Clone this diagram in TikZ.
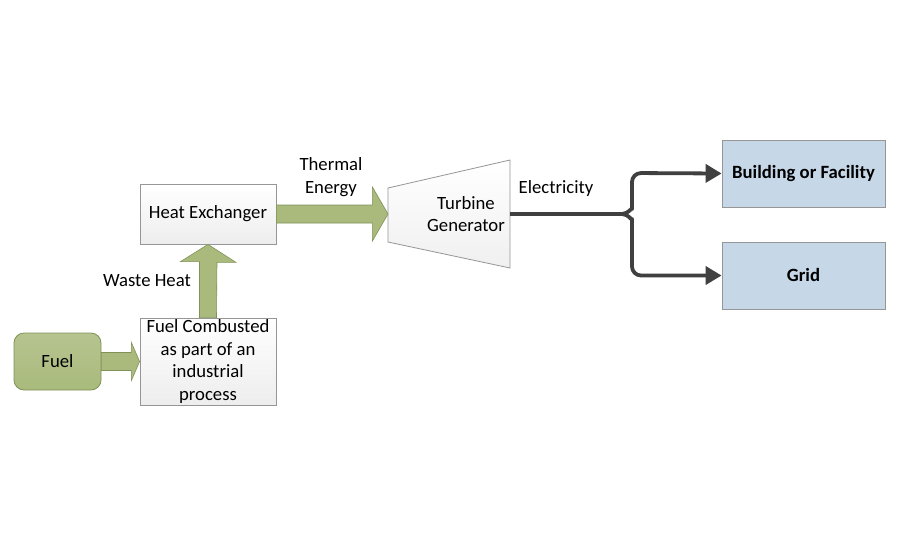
\documentclass[tikz,border=0pt]{standalone}
\usepackage{fontspec}
\setmainfont{Carlito}
\usetikzlibrary{calc,arrows.meta}
\definecolor{olive}{RGB}{169,186,124}
\definecolor{oliveD}{RGB}{128,146,88}
\definecolor{boxB}{RGB}{150,150,150}
\definecolor{blueF}{RGB}{198,215,232}
\definecolor{lineC}{RGB}{64,64,64}
\tikzset{
  fnt/.style={font=\fontsize{18.7}{22.5}\selectfont},
  whitebox/.style={fnt, draw=boxB, line width=0.8pt, top color=white, bottom color=black!7, align=center, inner sep=1pt},
  bluebox/.style={draw=boxB, line width=0.8pt, fill=blueF, align=center, minimum width=163pt, minimum height=67pt, font=\fontsize{18.7}{22.5}\selectfont\bfseries},
  fuelbox/.style={fnt, draw=oliveD, line width=0.8pt, top color=olive!85, bottom color=olive, rounded corners=10pt, minimum width=87pt, minimum height=57pt},
  blockarrow/.style={draw=oliveD, line width=0.6pt, fill=olive},
  lbl/.style={fnt, align=center, inner sep=1pt},
  wire/.style={draw=lineC, line width=3.8pt, line join=round, rounded corners=9pt},
}
\begin{document}
\begin{tikzpicture}[x=1pt,y=-1pt]
\useasboundingbox[fill=white] (0,0) rectangle (900,550);
% nodes
\node[fuelbox] (fuel) at (57.5,361.5) {Fuel};
\node[whitebox, minimum width=136pt, minimum height=87pt] (comb) at (208,361.5) {Fuel Combusted\\as part of an\\industrial\\process};
\node[whitebox, minimum width=136pt, minimum height=60pt] (hx) at (208,214) {Heat Exchanger};
% turbine trapezoid
\coordinate (tA) at (388,188);
\coordinate (tB) at (510,160);
\coordinate (tC) at (510,268);
\coordinate (tD) at (388,242);
\draw[draw=boxB, line width=0.8pt, top color=white, bottom color=black!6] (tA) -- (tB) -- (tC) -- (tD) -- cycle;
\node[lbl] (turb) at (466,214) {Turbine\\Generator};
\coordinate (tout) at (510,214);
\node[bluebox] (bld) at (803.5,173.5) {Building or Facility};
\node[bluebox] (grid) at (803.5,275.5) {Grid};
% block arrows
\draw[blockarrow] ($(fuel.east)+(0,-9)$) -- ++(30,0) -- ++(0,-10) -- ($(comb.west)$) -- ($(fuel.east)+(30,19)$) -- ++(0,-10) -- ($(fuel.east)+(0,9)$) -- cycle;
\draw[blockarrow] ($(comb.north)+(-8.5,0)$) -- ++(0,-56) -- ++(-19,0) -- (hx.south) -- ($(hx.south)+(28,18)$) -- ++(-19,0) -- ($(comb.north)+(8.5,0)$) -- cycle;
\draw[blockarrow] ($(hx.east)+(0,-9)$) -- ++(96,0) -- ++(0,-18) -- (tA |- hx.east) -- ($(hx.east)+(96,27)$) -- ++(0,-18) -- ($(hx.east)+(0,9)$) -- cycle;
% labels
\node[lbl] (wh) at (147,281) {Waste Heat};
\node[lbl] (te) at (331,177) {Thermal\\Energy};
\node[lbl] (el) at (556,189) {Electricity};
% wire
\draw[wire] (tout) -- (624,214);
\draw[wire, -{Triangle[length=16pt,width=18pt]}] (622,214) to[out=0,in=-90] (632,200) -- (632,173) -- (bld.west);
\draw[wire, -{Triangle[length=16pt,width=18pt]}] (622,214) to[out=0,in=90] (632,228) -- (632,275.5) -- (grid.west);
\end{tikzpicture}
\end{document}
